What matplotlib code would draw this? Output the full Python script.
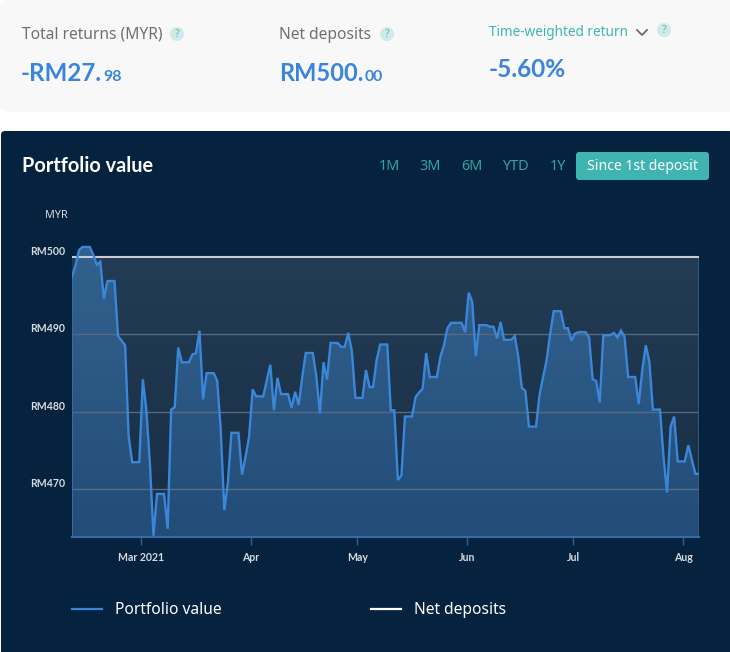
import numpy as np
import pandas as pd
import matplotlib
matplotlib.use("Agg")
import matplotlib.pyplot as plt
import matplotlib.dates as mdates
from matplotlib.colors import LinearSegmentedColormap
from matplotlib.patches import FancyBboxPatch, Circle

plt.rcParams['font.family'] = ['Noto Sans', 'DejaVu Sans']
BOLD_FAMILY = ['Lato', 'DejaVu Sans']

portfolio_values = [
    497.5, 498.9, 500.9, 501.3, 501.3, 501.3, 500.3, 499.0, 499.4, 494.6,
    496.9, 496.9, 496.9, 489.8, 489.2, 488.6, 476.8, 473.5, 473.5, 473.5,
    484.2, 480.2, 473.3, 464.0, 469.4, 469.4, 469.4, 464.9, 480.3, 480.6,
    488.3, 486.4, 486.4, 486.4, 487.4, 487.6, 490.5, 481.6, 485.0, 485.0,
    485.0, 484.0, 477.6, 467.3, 470.8, 477.3, 477.3, 477.3, 471.9, 474.2,
    476.8, 482.9, 482.0, 482.0, 482.0, 484.1, 486.1, 480.2, 484.4, 482.3,
    482.3, 482.3, 480.5, 482.6, 480.9, 484.5, 487.6, 487.6, 487.6, 484.5,
    479.8, 486.4, 484.2, 488.9, 488.9, 488.9, 488.4, 488.4, 490.2, 487.9,
    481.8, 481.8, 481.8, 485.4, 483.2, 483.2, 486.7, 488.7, 488.7, 488.7,
    480.2, 480.2, 471.2, 471.8, 479.4, 479.4, 479.4, 481.9, 482.5, 483.0,
    487.6, 484.5, 484.5, 484.5, 487.1, 488.6, 490.8, 491.5, 491.5, 491.5,
    491.5, 490.3, 495.4, 494.2, 487.2, 491.2, 491.2, 491.2, 491.0, 491.0,
    489.5, 491.6, 489.3, 489.3, 489.3, 489.8, 487.1, 483.1, 482.7, 478.1,
    478.1, 478.1, 482.2, 484.5, 486.7, 490.1, 493.0, 493.0, 493.0, 490.8,
    490.8, 489.2, 490.1, 490.3, 490.3, 490.3, 489.6, 484.2, 484.0, 481.2,
    489.9, 489.9, 489.9, 490.2, 489.6, 490.5, 489.7, 484.5, 484.5, 484.5,
    481.0, 485.4, 488.6, 486.5, 480.3, 480.3, 480.3, 474.2, 469.6, 478.1,
    479.4, 473.6, 473.6, 473.6, 475.7, 473.8, 472.0, 472.0,
]
net_deposits = [500.0] * len(portfolio_values)
month_ticks = ["2021-03-01", "2021-04-01", "2021-05-01", "2021-06-01", "2021-07-01", "2021-08-01"]
month_labels = ["Mar 2021", "Apr", "May", "Jun", "Jul", "Aug"]
y_ticks = [470, 480, 490, 500]
y_labels = ["RM470", "RM480", "RM490", "RM500"]
range_buttons = ["1M", "3M", "6M", "YTD", "1Y"]

W, H = 730, 652
PANEL = "#05233f"
LINE = "#3a86d8"
TEAL = "#3fb6b2"
BIG = "#3a84dc"

fig = plt.figure(figsize=(W / 100, H / 100), dpi=100, facecolor="white")

bg = fig.add_axes([0, 0, 1, 1], zorder=0)
bg.set_xlim(0, W)
bg.set_ylim(H, 0)
bg.axis("off")

bg.add_patch(FancyBboxPatch((5, 5), 730, 101, boxstyle="round,pad=0,rounding_size=4",
                            fc="#f8f8f8", ec="#f8f8f8", lw=8, joinstyle="round"))
bg.add_patch(FancyBboxPatch((1, 131), 732, 530, boxstyle="round,pad=0,rounding_size=4",
                            fc=PANEL, ec="none"))


def help_icon(x, y):
    bg.add_patch(Circle((x, y), 7, fc="#cfeae8", ec="none"))
    bg.text(x, y + 0.3, "?", color="#58bdb9", fontsize=7.5, ha="center", va="center")


bg.text(22, 34.5, "Total returns (MYR)", color="#707070", fontsize=11.2, va="center")
help_icon(177, 34)
bg.text(279, 35, "Net deposits", color="#707070", fontsize=11.2, va="center")
help_icon(387, 34)
bg.text(489, 32.5, "Time-weighted return", color=TEAL, fontsize=9.8, va="center")
bg.plot([637, 642, 647], [30, 35, 30], color="#6b6b6b", lw=1.3)
help_icon(664, 30)

bg.text(21, 81, "-RM27.", color=BIG, fontsize=17.4, fontweight="bold", family=BOLD_FAMILY, va="baseline")
bg.text(103.5, 81, "98", color=BIG, fontsize=11.4, fontweight="bold", family=BOLD_FAMILY, va="baseline")
bg.text(279, 81, "RM500.", color=BIG, fontsize=17.0, fontweight="bold", family=BOLD_FAMILY, va="baseline")
bg.text(364.5, 81, "00", color=BIG, fontsize=11.4, fontweight="bold", family=BOLD_FAMILY, va="baseline")
bg.text(489, 77, "-5.60%", color=BIG, fontsize=17.6, fontweight="bold", family=BOLD_FAMILY, va="baseline")

bg.text(22, 165.5, "Portfolio value", color="white", fontsize=14.3, fontweight="bold", family=BOLD_FAMILY, va="center")
for lab, x in zip(range_buttons, [389.5, 430.5, 472, 515.5, 557.5]):
    bg.text(x, 166, lab, color="#36a3a1", fontsize=10.4, ha="center", va="center")
bg.add_patch(FancyBboxPatch((576, 152), 133, 28, boxstyle="round,pad=0,rounding_size=3",
                            fc="#40b4b0", ec="none"))
bg.text(642.5, 166, "Since 1st deposit", color="white", fontsize=10.1, ha="center", va="center")
bg.text(45, 215, "MYR", color="#d5dade", fontsize=7.8, va="center")

L, R, T, B = 72, 699, 237, 537
ax = fig.add_axes([L / W, 1 - B / H, (R - L) / W, (B - T) / H], zorder=1)
ax.patch.set_alpha(0)
for s in ax.spines.values():
    s.set_visible(False)

px_per_unit = 7.74
ymin = 470 - (B - 489.3) / px_per_unit
ymax = 500 + (257 - T) / px_per_unit

start = pd.Timestamp("2021-02-09 10:30")
dates = pd.date_range(start, periods=len(portfolio_values), freq="D")
x = mdates.date2num(dates)
x0 = x[0]
x1 = x[0] + (R - L) / 3.542
vals = np.array(portfolio_values)

back_cmap = LinearSegmentedColormap.from_list("b", ["#233b54", "#182e47"])
fill_cmap = LinearSegmentedColormap.from_list("f", ["#33628f", "#234c78"])
grad = np.linspace(0, 1, 256).reshape(-1, 1)

ax.imshow(grad, extent=[x0, x1, ymin, 500], aspect="auto", cmap=back_cmap, zorder=1, origin="upper")
poly = ax.fill_between(x, vals, ymin, facecolor="none", edgecolor="none", zorder=2)
im = ax.imshow(grad, extent=[x0, x1, ymin, ymax], aspect="auto", cmap=fill_cmap, zorder=2, origin="upper")
im.set_clip_path(poly.get_paths()[0], transform=ax.transData)

for v in y_ticks[:-1]:
    ax.axhline(v, color="#566a80", lw=1.0, zorder=3)

ax.plot([x1, x1], [ymin, 500], color="#3f5d7e", lw=1.2, zorder=3)
ax.plot([x0, x0], [ymin, vals[0]], color="#356ba6", lw=1.5, zorder=3)
ax.plot([x0, x1], [ymin, ymin], color="#356ba6", lw=1.5, zorder=3, clip_on=False)

h_dep, = ax.plot(x, net_deposits, color="#c9cdd1", lw=1.5, zorder=4, label="Net deposits")
h_port, = ax.plot(x, vals, color=LINE, lw=1.7, zorder=5, label="Portfolio value", solid_joinstyle="miter")

ax.set_xlim(x0, x1)
ax.set_ylim(ymin, ymax)

ax.set_xticks(mdates.date2num(pd.to_datetime(month_ticks)))
ax.set_xticklabels(month_labels)
ax.tick_params(axis="x", length=12, width=1, color="#2a5f96", labelcolor="#d5dade",
               labelsize=7.6, pad=5, bottom=True, top=False, direction="inout")
for t in ax.get_xticklabels():
    t.set_fontfamily(BOLD_FAMILY)
    t.set_fontweight("bold")
ax.set_yticks(y_ticks)
ax.set_yticklabels(y_labels, va="bottom")
ax.tick_params(axis="y", length=0, labelcolor="#d5dade", labelsize=7.6, pad=5)
for t in ax.get_yticklabels():
    t.set_fontfamily(BOLD_FAMILY)
    t.set_fontweight("bold")

leg = ax.legend(handles=[h_port, h_dep], loc="upper left", ncol=2,
                bbox_to_anchor=(0, -(602 - B) / (B - T)), frameon=False,
                fontsize=11.2, labelcolor="white", handlelength=1.95, handletextpad=0.8,
                columnspacing=9.62, borderpad=0, borderaxespad=0)
leg.get_lines()[0].set_linewidth(1.6)
leg.get_lines()[1].set_color("white")
leg.get_lines()[1].set_linewidth(1.6)

fig.savefig("out.png", dpi=100, facecolor="white")
